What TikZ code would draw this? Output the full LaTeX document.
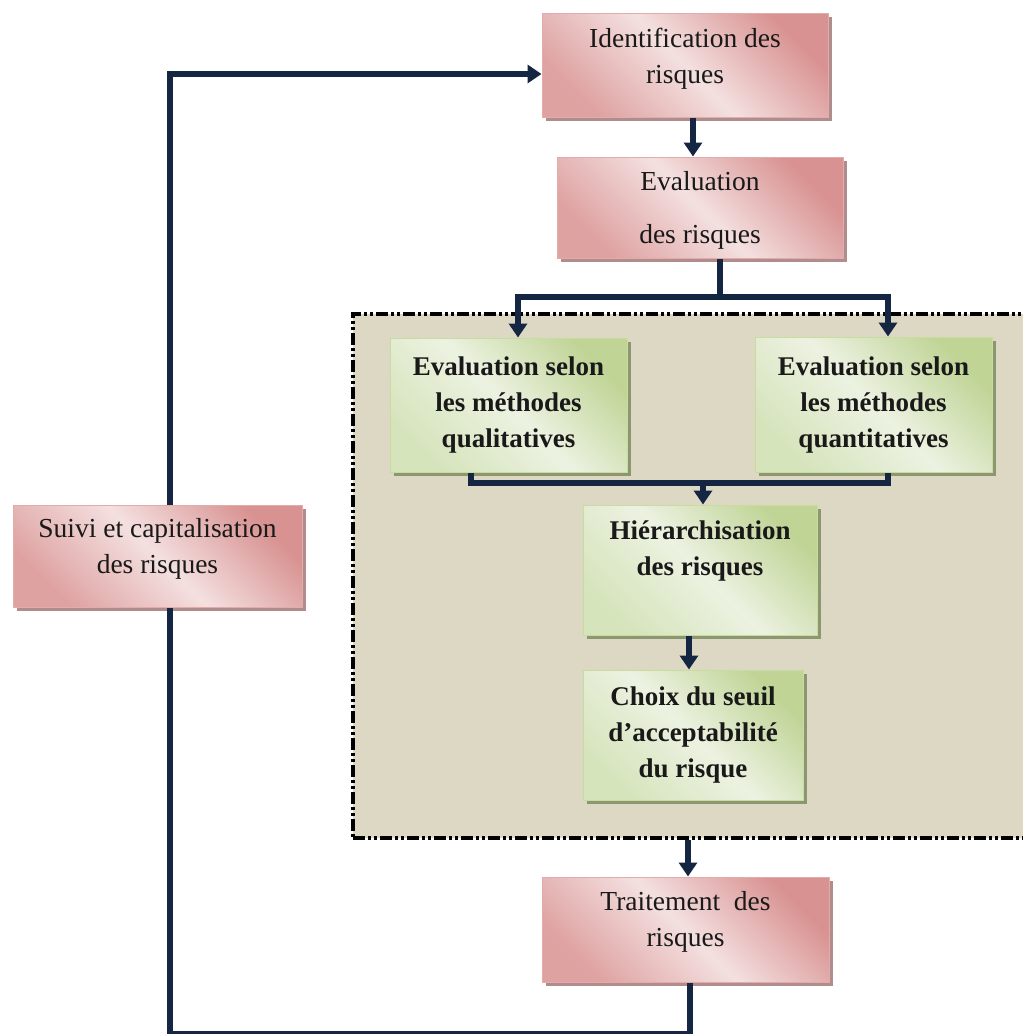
\documentclass[tikz,border=0pt]{standalone}
\usepackage{fontspec}
\setmainfont{Liberation Serif}
\usetikzlibrary{arrows.meta,shadows}

\definecolor{rosedark}{RGB}{216,146,145}
\definecolor{roselight}{RGB}{244,224,224}
\definecolor{rosemid}{RGB}{222,162,161}
\definecolor{roseedge}{RGB}{226,172,171}
\definecolor{roseshadow}{RGB}{176,140,140}
\definecolor{leafdark}{RGB}{192,212,150}
\definecolor{leaflight}{RGB}{236,242,225}
\definecolor{leafmid}{RGB}{214,228,188}
\definecolor{leafedge}{RGB}{200,220,160}
\definecolor{leafshadow}{RGB}{140,150,112}
\definecolor{panelfill}{RGB}{221,216,195}
\definecolor{linknavy}{RGB}{20,38,66}

% invisible struts to nudge a text block inside its box
\newcommand\lowpad[1]{\rule[-#1]{0pt}{#1}}
\newcommand\highpad[1]{\rule{0pt}{#1}}

\tikzset{
  flowbox/.style={inner sep=0pt, align=center, text=black!90},
  rosebox/.style={flowbox, font=\fontsize{27.5}{36}\selectfont,
    draw=roseedge, line width=1pt,
    top color=rosedark, bottom color=rosemid, middle color=roselight,
    shading angle=-45,
    drop shadow={shadow xshift=4pt, shadow yshift=-4pt, fill=roseshadow, opacity=1}},
  leafbox/.style={flowbox, font=\fontsize{27}{36}\selectfont\bfseries,
    draw=leafedge, line width=1pt,
    top color=leafdark, bottom color=leafmid, middle color=leaflight,
    shading angle=-45,
    drop shadow={shadow xshift=4pt, shadow yshift=-4pt, fill=leafshadow, opacity=1}},
  connector/.style={draw=linknavy, line width=5.5pt},
  arrowed/.style={-{Triangle[width=18pt,length=14pt]}},
  panel/.style={draw=black, line width=3.5pt, fill=panelfill,
    dash pattern=on 12pt off 3pt on 3pt off 3pt on 3pt off 3pt}
}

\begin{document}
\begin{tikzpicture}[x=1pt,y=-1pt]
\path[use as bounding box] (0,0) rectangle (1023,1034);
\clip (0,0) rectangle (1023,1034);

% evaluation panel (runs past the right edge)
\node[panel, minimum width=687pt, minimum height=524pt] (panel) at (696.5,576) {};

% process boxes
\node[rosebox, minimum width=286pt, minimum height=104pt] (ident) at (685,65)
  {Identification des\\risques\lowpad{19pt}};
\node[rosebox, minimum width=286pt, minimum height=101pt] (evalr) at (700,207.5)
  {\highpad{24pt}Evaluation\\[17pt]des risques};
\node[leafbox, minimum width=237pt, minimum height=134pt] (qual) at (508.5,405)
  {Evaluation selon\\les méthodes\\qualitatives};
\node[leafbox, minimum width=237pt, minimum height=135pt] (quant) at (873.5,404.5)
  {Evaluation selon\\les méthodes\\quantitatives};
\node[leafbox, minimum width=234pt, minimum height=130pt] (hier) at (700,570)
  {Hiérarchisation\\des risques\lowpad{43pt}};
\node[leafbox, minimum width=220pt, minimum height=130pt] (choix) at (693,735)
  {Choix du seuil\\d’acceptabilité\\du risque};
\node[rosebox, minimum width=287pt, minimum height=105pt] (trait) at (685.5,929.5)
  {Traitement\ \ des\\risques\lowpad{21pt}};
\node[rosebox, minimum width=289pt, minimum height=102pt] (suivi) at (157.5,556)
  {Suivi et capitalisation\\des risques\lowpad{21pt}};

% connector columns and rows
\coordinate (cS) at (170,0);
\coordinate (cA) at (693,0);
\coordinate (cB) at (720,0);
\coordinate (cL) at (518,0);
\coordinate (cR) at (888,0);
\coordinate (cQ) at (471,0);
\coordinate (cH) at (703,0);
\coordinate (cC) at (689,0);
\coordinate (cT) at (688,0);
\coordinate (cU) at (690,0);
\coordinate (topY) at (0,74);
\coordinate (bus1) at (0,297);
\coordinate (bus2) at (0,483);
\coordinate (bottomY) at (0,1033.5);

% feedback loop
\draw[connector, arrowed] (suivi.north -| cS) |- (ident.west |- topY);
\draw[connector] (trait.south -| cU) |- (bottomY -| cS) -- (suivi.south -| cS);

% main flow
\draw[connector, arrowed] (ident.south -| cA) -- (evalr.north -| cA);
\draw[connector, arrowed] (evalr.south -| cB) |- (bus1 -| cL) -- (qual.north -| cL);
\draw[connector, arrowed] (bus1 -| cB) -| (quant.north -| cR);
\draw[connector] (qual.south -| cQ) |- (bus2 -| cR) -- (quant.south -| cR);
\draw[connector, arrowed] (bus2 -| cH) -- (hier.north -| cH);
\draw[connector, arrowed] (hier.south -| cC) -- (choix.north -| cC);
\draw[connector, arrowed] (panel.south -| cT) -- (trait.north -| cT);
\end{tikzpicture}
\end{document}
